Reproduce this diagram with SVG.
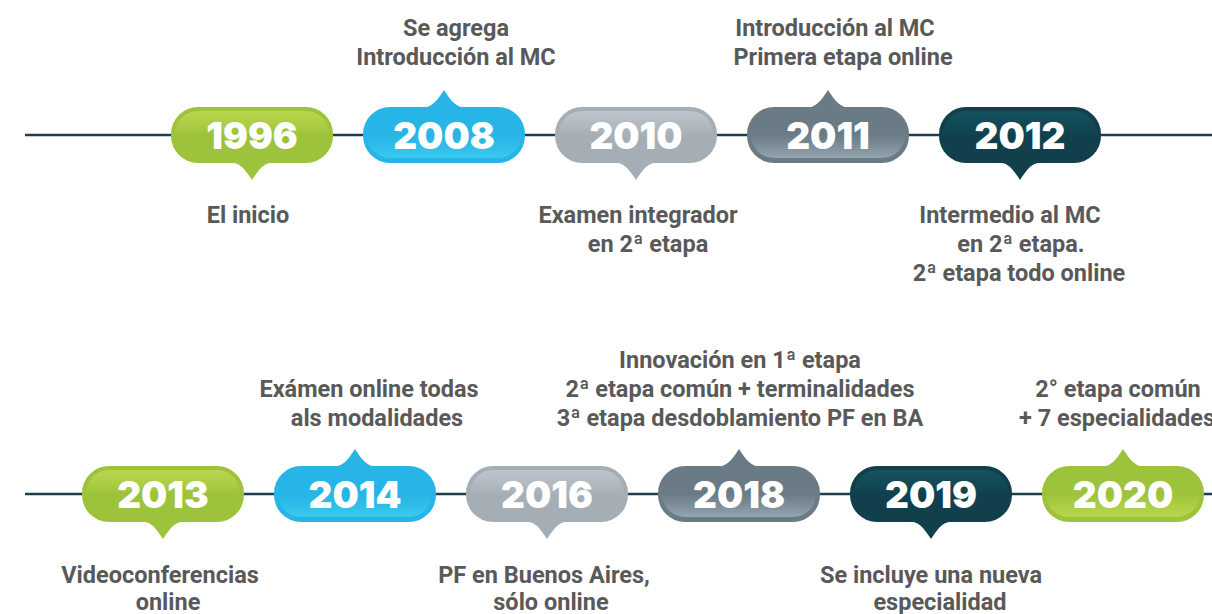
<svg xmlns="http://www.w3.org/2000/svg" xmlns:xlink="http://www.w3.org/1999/xlink" width="1212" height="614" viewBox="0 0 1212 614">
<style>
.lbl{font-family:Roboto,"Liberation Sans",sans-serif;font-weight:700;font-size:23.5px;fill:#595959;text-anchor:middle}
.yr{font-family:Inter,"Open Sans","Liberation Sans",sans-serif;font-weight:900;font-size:37px;fill:#ffffff;text-anchor:middle}
.line{stroke:#1d3e4d;stroke-width:2.5;fill:none}
</style>
<defs>
<path id="pill" d="M-54,-28 H54 A27,27 0 0 1 81,-1 V1 A27,27 0 0 1 54,28 H-54 A27,27 0 0 1 -81,1 V-1 A27,27 0 0 1 -54,-28 Z"/>
<rect id="inner" x="-77" y="-24" width="154" height="47" rx="23"/>
<path id="pdown" d="M-25,27 C-12,27 -8,33 0,45 C8,33 12,27 25,27 Z"/>
<path id="pup" d="M-25,-27 C-12,-27 -8,-33 0,-45 C8,-33 12,-27 25,-27 Z"/>
<linearGradient id="gGreenT" x1="0" y1="0" x2="0" y2="1"><stop offset="0" stop-color="#bad64f"/><stop offset="0.35" stop-color="#a8cb41"/><stop offset="0.5" stop-color="#9dc23b"/></linearGradient>
<linearGradient id="gGreenB" x1="0" y1="0" x2="0" y2="1"><stop offset="0.5" stop-color="#9dc23b"/><stop offset="0.7" stop-color="#a8cb41"/><stop offset="1" stop-color="#bad64f"/></linearGradient>
<linearGradient id="gBlueB" x1="0" y1="0" x2="0" y2="1"><stop offset="0.5" stop-color="#27b4e6"/><stop offset="0.75" stop-color="#2fbde9"/><stop offset="1" stop-color="#3ccbef"/></linearGradient>
<linearGradient id="gGrayT" x1="0" y1="0" x2="0" y2="1"><stop offset="0" stop-color="#bec5cb"/><stop offset="0.4" stop-color="#adb5bc"/><stop offset="0.55" stop-color="#a5aeb5"/></linearGradient>
<linearGradient id="gSlateB" x1="0" y1="0" x2="0" y2="1"><stop offset="0.5" stop-color="#6b7b86"/><stop offset="0.75" stop-color="#7d8e99"/><stop offset="1" stop-color="#94a5b0"/></linearGradient>
<linearGradient id="gTealT" x1="0" y1="0" x2="0" y2="1"><stop offset="0" stop-color="#16525f"/><stop offset="0.4" stop-color="#124552"/><stop offset="0.55" stop-color="#113f4c"/></linearGradient>
</defs>
<g id="connectors">
<line class="line" x1="25" y1="135" x2="1212" y2="135"/>
<line class="line" x1="25" y1="494" x2="1212" y2="494"/>
</g>
<g id="n1996" transform="translate(252,135)">
<use href="#pill" fill="#9dc23b"/><use href="#pdown" fill="#9dc23b"/><use href="#inner" fill="url(#gGreenT)"/>
<text class="yr" x="0" y="14">1996</text>
<text class="lbl" x="-4" y="88">El inicio</text>
</g>
<g id="n2008" transform="translate(444,135)">
<use href="#pill" fill="#27b4e6"/><use href="#pup" fill="#27b4e6"/><use href="#inner" fill="url(#gBlueB)"/>
<text class="yr" x="0" y="14">2008</text>
<text class="lbl" x="12" y="-99">Se agrega</text>
<text class="lbl" x="12" y="-70">Introducción al MC</text>
</g>
<g id="n2010" transform="translate(636,135)">
<use href="#pill" fill="#a5aeb5"/><use href="#pdown" fill="#a5aeb5"/><use href="#inner" fill="url(#gGrayT)"/>
<text class="yr" x="0" y="14">2010</text>
<text class="lbl" x="2" y="88">Examen integrador</text>
<text class="lbl" x="12" y="117">en 2ª etapa</text>
</g>
<g id="n2011" transform="translate(828,135)">
<use href="#pill" fill="#6b7b86"/><use href="#pup" fill="#6b7b86"/><use href="#inner" fill="url(#gSlateB)"/>
<text class="yr" x="0" y="14">2011</text>
<text class="lbl" x="7" y="-99">Introducción al MC</text>
<text class="lbl" x="15" y="-70">Primera etapa online</text>
</g>
<g id="n2012" transform="translate(1020,135)">
<use href="#pill" fill="#113f4c"/><use href="#pdown" fill="#113f4c"/><use href="#inner" fill="url(#gTealT)"/>
<text class="yr" x="0" y="14">2012</text>
<text class="lbl" x="-10" y="88">Intermedio al MC</text>
<text class="lbl" x="1" y="117">en 2ª etapa.</text>
<text class="lbl" x="-1" y="146">2ª etapa todo online</text>
</g>
<g id="n2013" transform="translate(163,494)">
<use href="#pill" fill="#9dc23b"/><use href="#pdown" fill="#9dc23b"/><use href="#inner" fill="url(#gGreenT)"/>
<text class="yr" x="0" y="14">2013</text>
<text class="lbl" x="-3" y="89">Videoconferencias</text>
<text class="lbl" x="5" y="116">online</text>
</g>
<g id="n2014" transform="translate(355,494)">
<use href="#pill" fill="#27b4e6"/><use href="#pup" fill="#27b4e6"/><use href="#inner" fill="url(#gBlueB)"/>
<text class="yr" x="0" y="14">2014</text>
<text class="lbl" x="14" y="-97">Exámen online todas</text>
<text class="lbl" x="22" y="-68">als modalidades</text>
</g>
<g id="n2016" transform="translate(547,494)">
<use href="#pill" fill="#a5aeb5"/><use href="#pdown" fill="#a5aeb5"/><use href="#inner" fill="url(#gGrayT)"/>
<text class="yr" x="0" y="14">2016</text>
<text class="lbl" x="-3" y="89">PF en Buenos Aires,</text>
<text class="lbl" x="4" y="116">sólo online</text>
</g>
<g id="n2018" transform="translate(739,494)">
<use href="#pill" fill="#6b7b86"/><use href="#pup" fill="#6b7b86"/><use href="#inner" fill="url(#gSlateB)"/>
<text class="yr" x="0" y="14">2018</text>
<text class="lbl" x="1" y="-126">Innovación en 1ª etapa</text>
<text class="lbl" x="1" y="-97">2ª etapa común + terminalidades</text>
<text class="lbl" x="1" y="-68">3ª etapa desdoblamiento PF en BA</text>
</g>
<g id="n2019" transform="translate(931,494)">
<use href="#pill" fill="#113f4c"/><use href="#pdown" fill="#113f4c"/><use href="#inner" fill="url(#gTealT)"/>
<text class="yr" x="0" y="14">2019</text>
<text class="lbl" x="0" y="89">Se incluye una nueva</text>
<text class="lbl" x="9" y="116">especialidad</text>
</g>
<g id="n2020" transform="translate(1123,494)">
<use href="#pill" fill="#9dc23b"/><use href="#pup" fill="#9dc23b"/><use href="#inner" fill="url(#gGreenB)"/>
<text class="yr" x="0" y="14">2020</text>
<text class="lbl" x="-5" y="-97">2° etapa común</text>
<text class="lbl" x="-6" y="-68">+ 7 especialidades</text>
</g>
</svg>
